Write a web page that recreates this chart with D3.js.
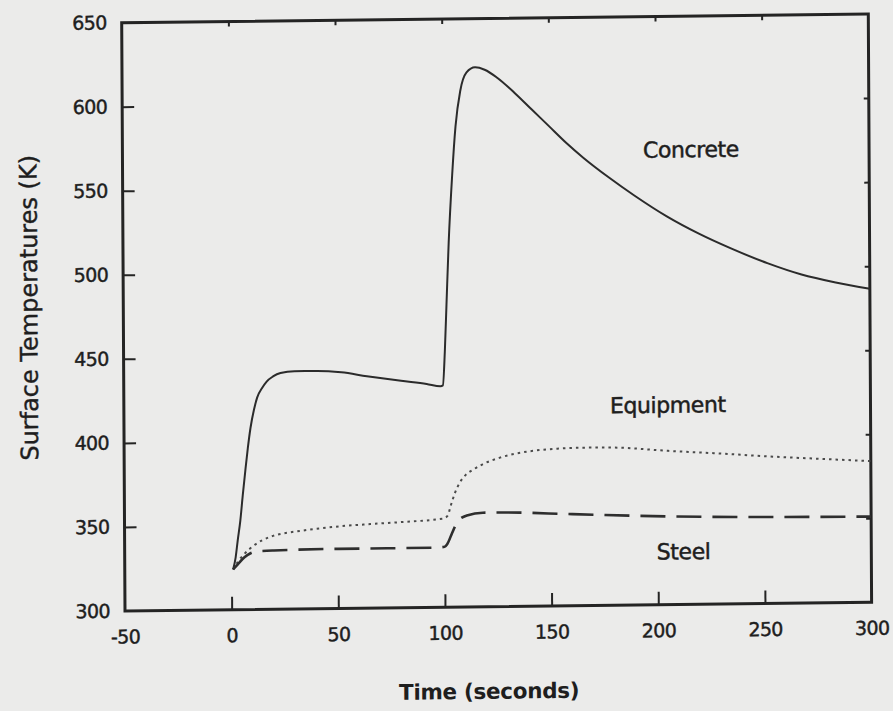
<!DOCTYPE html>
<html>
<head>
<meta charset="utf-8">
<script src="https://cdn.jsdelivr.net/npm/d3@7"></script>
<style>
  html, body { margin: 0; padding: 0; background: #ebebea; }
  svg { display: block; }
  text { font-family: "DejaVu Sans", sans-serif; fill: #1e1e1e; }
</style>
</head>
<body>
<svg id="chart" width="893" height="711"></svg>
<script>
// Axis ticks
const timeTicks = [-50, 0, 50, 100, 150, 200, 250, 300];
const tempTicks = [300, 350, 400, 450, 500, 550, 600, 650];

// Concrete surface temperature (K) vs time (s)
const concreteTime = [0.8, 2, 3, 4.3, 5.5, 6.8, 8, 9.3, 11, 12.5, 15, 17, 20, 23.5, 30, 40, 52, 64, 80, 92, 98.5,
  99.6, 100.6, 101.5, 102.7, 104.5, 106.2, 108.5, 111.5, 115.5, 120, 126, 134, 142, 150, 158, 166, 178, 190,
  205, 220, 235, 252, 268, 284, 300];
const concreteTemp = [324, 331, 341, 353, 368, 383, 396, 408, 419, 426, 432, 435.5, 438.5, 440.5, 441.5, 441.5, 440.5, 438, 435, 433, 431.5,
  432, 452, 480, 517, 557, 586, 607, 618, 621, 619.5, 614.5, 605.5, 595.5, 585.5, 575.5, 566.5, 554.5, 543.5,
  531, 520.5, 511.5, 502.5, 495.5, 490.5, 486.5];

// Equipment surface temperature (K)
const equipTime = [0.8, 3, 6, 10.5, 18, 34, 48, 65, 80, 99.5, 101.5, 103, 105, 107.5, 110, 114, 118, 125, 133, 142,
  153, 165, 180, 205, 230, 252, 275, 300];
const equipTemp = [324, 328.5, 333, 338, 343, 346.7, 348.6, 350, 351, 352.8, 354.5, 360.5, 368, 374.5, 378.5, 382, 384.8, 388.2, 390.8, 392.5,
  393.6, 394, 393.8, 391.5, 389.5, 387.5, 385.8, 384];

// Steel surface temperature (K)
const steelTime = [0.8, 3, 6, 9, 11.5, 20, 50, 95, 100, 101.2, 103.5, 106, 110.5, 118, 126, 160, 205, 250, 300];
const steelTemp = [324, 327, 331, 333.5, 334.5, 335, 335.5, 335.5, 336, 337.5, 344, 350.7, 354.5, 356, 356, 354.5, 352.5, 351.5, 351];

// Curve labels
const labelNames = ["Concrete", "Equipment", "Steel"];
const labelTime = [216.5, 205, 212];
const labelTemp = [570.6, 418.8, 331.5];

const W = 746.6, H = 588.3;
const svg = d3.select("#chart");

// The whole figure sits on a slightly skewed sheet
const g = svg.append("g")
  .attr("transform", "translate(121.7,22.7) matrix(1,-0.01165,0.00561,1,0,0)");

const x = d3.scaleLinear().domain([-50, 300]).range([0, W]);
const y = d3.scaleLinear().domain([300, 650]).range([H, 0]);

const ink = "#242424";
const plain = d => String(d);

function styleAxis(sel, showText) {
  sel.select(".domain").remove();
  sel.selectAll(".tick line").attr("stroke", ink).attr("stroke-width", 2);
  if (!showText) sel.selectAll(".tick text").remove();
  else sel.selectAll(".tick text")
    .attr("font-size", 19)
    .attr("letter-spacing", -0.6)
    .attr("fill", "#1e1e1e")
    .attr("stroke", "#1e1e1e")
    .attr("stroke-width", 0.45);
}

g.append("g").attr("transform", `translate(0,${H})`)
  .call(d3.axisBottom(x).tickValues(timeTicks.slice(1, -1)).tickSize(-13))
  .call(s => styleAxis(s, false));
g.append("g").attr("transform", `translate(0,${H})`)
  .call(d3.axisBottom(x).tickValues(timeTicks).tickSize(0).tickPadding(19).tickFormat(plain))
  .call(s => styleAxis(s, true));

g.append("g")
  .call(d3.axisLeft(y).tickValues(tempTicks.slice(1, -1)).tickSize(-12))
  .call(s => styleAxis(s, false));
g.append("g")
  .call(d3.axisLeft(y).tickValues(tempTicks).tickSize(0).tickPadding(15).tickFormat(plain))
  .call(s => styleAxis(s, true));

g.append("g")
  .call(d3.axisTop(x).tickValues(timeTicks.slice(1, -1)).tickSize(-5))
  .call(s => styleAxis(s, false));
g.append("g").attr("transform", `translate(${W},0)`)
  .call(d3.axisRight(y).tickValues(tempTicks.slice(1, -1)).tickSize(-5))
  .call(s => styleAxis(s, false));

// Frame
g.append("rect")
  .attr("x", 0).attr("y", 0).attr("width", W).attr("height", H)
  .attr("fill", "none").attr("stroke", ink).attr("stroke-width", 3);

const line = d3.line()
  .x(d => x(d[0]))
  .y(d => y(d[1]))
  .curve(d3.curveMonotoneX);

const series = [
  { t: concreteTime, k: concreteTemp, dash: null, width: 2, color: "#2b2b2b" },
  { t: equipTime, k: equipTemp, dash: "2.5,4", width: 2, color: "#4a4a4a" },
  { t: steelTime, k: steelTemp, dash: "25,11", width: 2.6, color: "#2e2e2e" }
];

series.forEach(s => {
  g.append("path")
    .datum(d3.zip(s.t, s.k))
    .attr("d", line)
    .attr("fill", "none")
    .attr("stroke", s.color)
    .attr("stroke-width", s.width)
    .attr("stroke-dasharray", s.dash)
    .attr("stroke-linejoin", "round");
});

labelNames.forEach((name, i) => {
  g.append("text")
    .attr("x", x(labelTime[i]))
    .attr("y", y(labelTemp[i]))
    .attr("dy", "0.35em")
    .attr("text-anchor", "middle")
    .attr("font-size", 22)
    .attr("letter-spacing", -0.4)
    .attr("stroke", "#1e1e1e")
    .attr("stroke-width", 0.5)
    .text(name);
});

// Axis titles
g.append("text")
  .attr("x", x(120.5))
  .attr("y", H + 92)
  .attr("text-anchor", "middle")
  .attr("font-size", 21.5)
  .attr("font-weight", "bold")
  .attr("letter-spacing", -0.3)
  .text("Time (seconds)");

g.append("text")
  .attr("transform", `translate(-86,${y(481)}) rotate(-90)`)
  .attr("text-anchor", "middle")
  .attr("font-size", 24)
  .attr("letter-spacing", 0)
  .attr("stroke", "#1e1e1e")
  .attr("stroke-width", 0.4)
  .text("Surface Temperatures (K)");
</script>
</body>
</html>
